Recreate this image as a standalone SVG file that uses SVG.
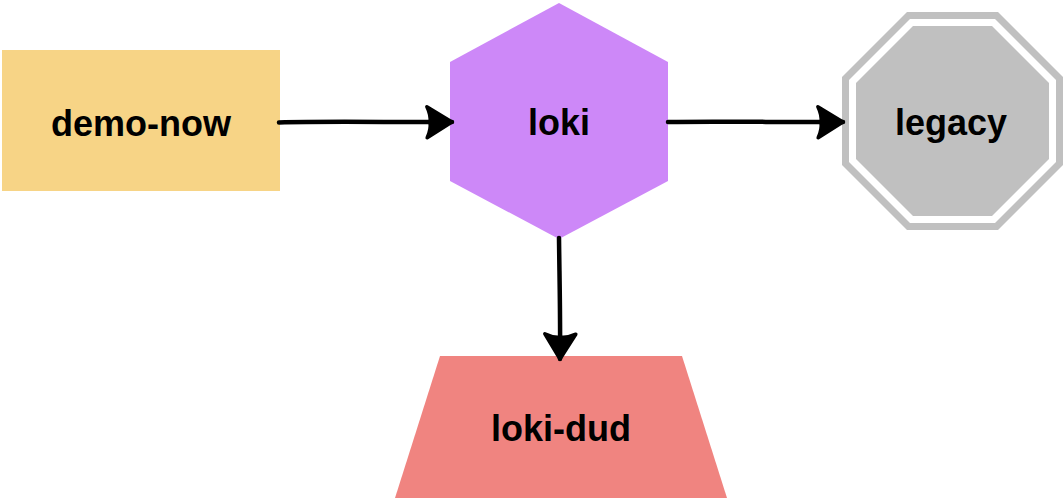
<svg xmlns="http://www.w3.org/2000/svg" width="1064" height="500" viewBox="0 0 1064 500">
  <style>
    .label { font-family: "Liberation Sans", Arial, sans-serif; font-weight: bold; font-size: 36px; fill: #000; text-anchor: middle; }
    .edge { fill: none; stroke: #000; stroke-width: 4.5; stroke-linecap: round; marker-end: url(#arrow); }
  </style>
  <defs>
    <marker id="arrow" markerUnits="userSpaceOnUse" viewBox="-32 -20 36 40" refX="0" refY="0" markerWidth="36" markerHeight="40" orient="auto">
      <path d="M0,0 L-25,-15.5 Q-21,-7 -22,0 Q-21,7 -25,15.5 Z" fill="#000" stroke="#000" stroke-width="3.5" stroke-linejoin="round"/>
    </marker>
  </defs>
  <rect width="1064" height="500" fill="#fff"/>

  <g id="node-demo-now">
    <rect x="2" y="50" width="278" height="141" fill="#F7D486"/>
    <text class="label" x="141" y="136">demo-now</text>
  </g>

  <g id="node-loki">
    <polygon points="559,3 668,62 668,181 559,239 450,181 450,62" fill="#CD88F8"/>
    <text class="label" x="559" y="135">loki</text>
  </g>

  <g id="node-legacy">
    <polygon points="907,12 998,12 1063,77 1063,165 998,230 907,230 842,165 842,77" fill="#C0C0C0"/>
    <polygon points="910,19 995,19 1056,80 1056,162 995,223 910,223 849,162 849,80" fill="#fff"/>
    <polygon points="913,26 992,26 1049,83 1049,159 992,216 913,216 856,159 856,83" fill="#C0C0C0"/>
    <text class="label" x="951" y="135">legacy</text>
  </g>

  <g id="node-loki-dud">
    <polygon points="440,356 682,356 727,498 395,498" fill="#F08480"/>
    <text class="label" x="561" y="441">loki-dud</text>
  </g>

  <g id="connectors">
    <path class="edge" d="M279,122.5 C330,121 400,122.5 452,122"/>
    <path class="edge" d="M668,122 C720,121 790,122.5 843,122"/>
    <path class="edge" d="M559,238 C559.5,280 560.5,320 560,359"/>
  </g>
</svg>
